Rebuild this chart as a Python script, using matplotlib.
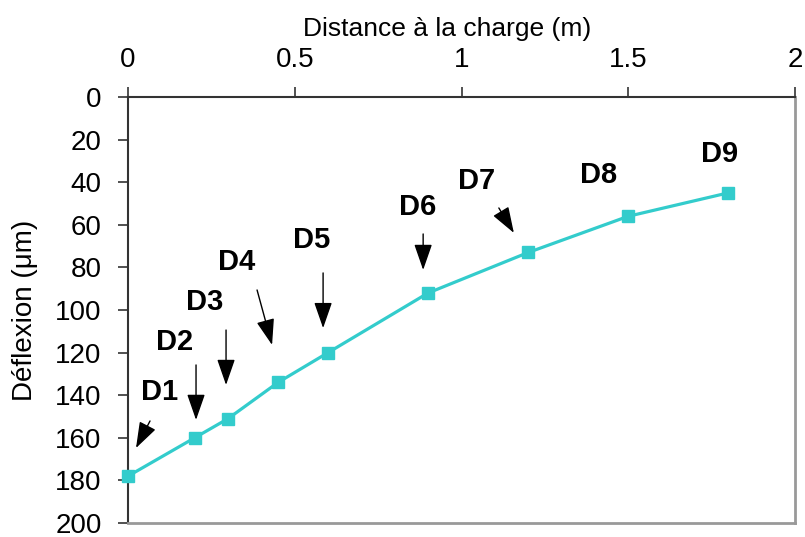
import matplotlib
matplotlib.use("Agg")
import matplotlib.pyplot as plt

distance = [0.0, 0.2, 0.3, 0.45, 0.6, 0.9, 1.2, 1.5, 1.8]
deflexion = [178, 160, 151, 134, 120, 92, 73, 56, 45]
labels = ["D1", "D2", "D3", "D4", "D5", "D6", "D7", "D8", "D9"]
x_ticks = [0, 0.5, 1, 1.5, 2]
x_tick_labels = ["0", "0.5", "1", "1.5", "2"]
y_ticks = [0, 20, 40, 60, 80, 100, 120, 140, 160, 180, 200]

plt.rcParams['font.family'] = ['Liberation Sans', 'DejaVu Sans']

fig = plt.figure(figsize=(8.05, 5.37), dpi=100)
ax = fig.add_axes([128/805, 1-523/537, (795-128)/805, (523-97)/537])

ax.plot(distance, deflexion, color='#33CCCC', lw=2.3, marker='s', ms=8,
        markeredgecolor='#33CCCC', zorder=3, clip_on=False)

# annotation layout: (label position, arrow tail, arrow head) in data coords
ann = [
    ((0.096, 138.5), (0.066, 152.1), (0.024, 164.8)),
    ((0.141, 115.0), (0.204, 125.8), (0.204, 151.6)),
    ((0.231, 96.2), (0.294, 109.4), (0.294, 135.2)),
    ((0.327, 77.5), (0.387, 90.6), (0.432, 116.4)),
    ((0.552, 67.1), (0.585, 82.6), (0.585, 108.5)),
    ((0.867, 51.6), (0.885, 64.3), (0.885, 81.2)),
    ((1.046, 39.4), (1.112, 52.1), (1.157, 63.8)),
    ((1.412, 36.6), None, None),
    ((1.775, 26.8), None, None),
]
for lab, (lp, tail, head) in zip(labels, ann):
    ax.text(lp[0], lp[1], lab, fontsize=21, fontweight='bold',
            ha='center', va='center', color='black')
    if tail is not None:
        ax.annotate('', xy=head, xytext=tail,
                    arrowprops=dict(arrowstyle='-|>,head_length=1.15,head_width=0.4',
                                    mutation_scale=14, lw=1, color='black',
                                    shrinkA=0, shrinkB=0))

ax.set_xlim(0, 2)
ax.set_ylim(200, 0)
ax.xaxis.set_ticks_position('top')
ax.xaxis.set_label_position('top')
ax.set_xticks(x_ticks)
ax.set_xticklabels(x_tick_labels)
ax.set_yticks(y_ticks)
ax.tick_params(axis='both', labelsize=20, length=7, width=1.2, color='#333333',
               direction='out')
ax.tick_params(axis='x', pad=10)
ax.tick_params(axis='y', pad=12)
ax.set_xlabel('Distance à la charge (m)', fontsize=19, labelpad=8)
ax.xaxis.label.set_x((447 - 128) / (795 - 128))
ax.set_ylabel('Déflexion (μm)', fontsize=20, labelpad=12)

for s in ['top', 'left']:
    ax.spines[s].set_color('#333333')
    ax.spines[s].set_linewidth(1.5)
for s in ['bottom', 'right']:
    ax.spines[s].set_color('#999999')
    ax.spines[s].set_linewidth(2)

fig.savefig('out.png', dpi=100)
